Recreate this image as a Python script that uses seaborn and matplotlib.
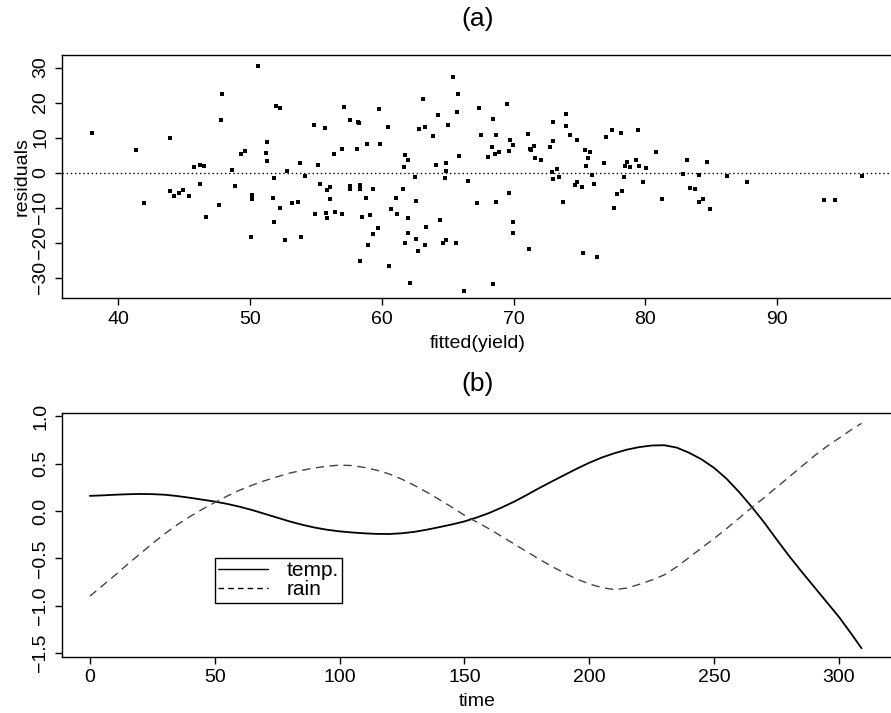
import numpy as np
import pandas as pd
import matplotlib
matplotlib.use("Agg")
import matplotlib.pyplot as plt
import seaborn as sns
from matplotlib.lines import Line2D

# ---------------- data: panel (a) ----------------
fitted = [
    37.98, 41.32, 41.98, 43.95, 43.90, 44.23, 44.63, 44.89, 45.39, 45.75,
    46.20, 46.48, 46.23, 46.68, 47.62, 47.77, 47.87, 48.63, 48.86, 49.29,
    49.65, 50.15, 50.18, 50.08, 50.63, 51.22, 51.32, 51.32, 51.82, 51.75,
    51.85, 51.95, 52.30, 52.25, 52.68, 52.78, 53.21, 53.67, 53.80, 53.90,
    54.18, 54.88, 54.91, 55.16, 55.34, 55.69, 55.75, 55.82, 55.82, 56.10,
    56.05, 56.35, 56.48, 56.96, 57.01, 57.16, 57.57, 57.62, 57.59, 58.20,
    58.30, 58.10, 58.35, 58.35, 58.35, 58.53, 58.81, 58.88, 59.14, 59.36,
    59.36, 59.77, 59.74, 59.90, 58.98, 60.50, 60.58, 60.73, 61.09, 61.16,
    61.64, 61.72, 61.79, 62.02, 61.99, 62.02, 61.74, 62.17, 62.55, 62.58,
    62.63, 62.73, 62.86, 63.11, 63.31, 63.26, 63.39, 63.92, 64.15, 64.30,
    64.43, 64.63, 64.76, 64.86, 64.86, 64.86, 65.06, 65.39, 65.62, 65.69,
    65.82, 65.87, 66.22, 66.58, 67.26, 67.41,
    67.54, 68.43, 68.40, 68.43, 68.07, 68.58, 68.70, 68.70, 68.93, 69.54,
    69.64, 69.72, 69.62, 69.99, 69.99, 69.99, 71.13, 71.21, 71.23, 71.36,
    71.54, 71.64, 72.12, 72.73, 72.91, 73.03, 73.01, 72.98, 73.28, 73.46,
    73.74, 73.97, 73.97, 74.30, 74.65, 74.78, 74.80, 75.16, 75.31, 75.44,
    75.64, 75.49, 75.84, 75.94, 76.07, 76.30, 76.90, 77.01, 77.44, 77.61,
    77.84, 78.12, 78.22, 78.40, 78.47, 78.60, 78.85, 79.28, 79.41, 79.49,
    79.82, 80.04, 80.83, 81.26, 82.88, 83.18, 83.41, 83.76, 84.04, 84.09,
    84.40, 84.65, 84.95, 86.19, 87.69, 93.53, 94.37, 96.44,
]
residuals = [
    11.24, 6.48, -8.57, 10.00, -5.14, -6.57, -5.90, -4.95, -6.66, 1.62,
    2.10, 2.00, -3.33, -12.76, -9.33, 14.96, 22.48, 0.67, -3.90, 5.43,
    6.10, -6.47, -7.61, -18.38, 30.39, 5.53, 8.67, 3.24, -1.60, -7.14,
    -14.00, 19.15, 18.58, -9.99, -19.14, 0.48, -8.76, -8.38, 2.67, -18.38,
    -0.95, 13.72, -11.71, 2.29, -3.33, 12.67, -11.61, -12.85, -4.95, -4.20,
    -7.42, 5.43, -11.23, -11.80, 6.86, 18.86, -4.76, -3.71, 15.15, 14.48,
    14.29, 6.67, -3.42, -4.57, -25.23, -12.57, -7.23, 8.10, -12.09, -4.57,
    -17.61, 18.29, -15.90, 8.10, -20.57, 12.96, -26.57, -10.47, -7.33, -11.80,
    -4.76, 1.72, 5.05, 3.62, -13.04, -17.33, -20.09, -31.52, -1.23, -19.04,
    -8.18, -22.38, 12.58, 21.15, 13.05, -20.76, -15.61, 10.39, 2.29, 16.39,
    -13.42, -20.09, -1.52, 2.77, 0.48, -19.23, 13.53, 27.43, -20.09, 17.24,
    22.48, 4.86, -33.71, -2.47, -8.76, 18.39,
    10.67, 15.24, 7.43, -31.90, 4.58, 5.24, 10.67, -8.28, 5.81, 19.53,
    6.20, 9.34, -5.90, 8.00, -14.20, -17.33, 11.05, -21.90, 6.67, 6.48,
    7.53, 4.20, 3.62, 7.24, 0.29, 14.57, 9.15, -1.90, 1.05, -1.23,
    -8.28, 16.86, 13.43, 10.86, -3.62, -2.66, 9.34, -4.19, -23.04, 6.48,
    4.20, 1.91, 6.00, -0.66, -3.14, -24.09, 2.67, 10.29, 12.10, -10.09,
    -6.09, 11.24, -5.33, -1.23, 1.91, 3.05, 1.72, 3.53, 12.10, 2.01,
    -2.76, 1.43, 6.00, -7.61, -0.47, 3.62, -4.38, -4.76, -0.66, -8.47,
    -7.61, 3.05, -10.47, -0.95, -2.66, -7.71, -7.71, -1.04,
]

# ---------------- data: panel (b) ----------------
time = [0, 5, 10, 15, 20, 25, 30, 35, 40, 45, 50, 55, 60, 65, 70, 75, 80,
        85, 90, 95, 100, 105, 110, 115, 120, 125, 130, 135, 140, 145, 150,
        155, 160, 165, 170, 175, 180, 185, 190, 195, 200, 205, 210, 215,
        220, 225, 230, 235, 240, 245, 250, 255, 260, 265, 270, 275, 280,
        285, 290, 295, 300, 305, 309]
temp = [0.160, 0.165, 0.172, 0.177, 0.180, 0.178, 0.172, 0.158, 0.140,
        0.120, 0.100, 0.075, 0.045, 0.010, -0.030, -0.070, -0.110, -0.145,
        -0.175, -0.198, -0.215, -0.227, -0.236, -0.242, -0.243, -0.235,
        -0.220, -0.197, -0.170, -0.142, -0.110, -0.068, -0.020, 0.038,
        0.100, 0.170, 0.243, 0.312, 0.380, 0.447, 0.510, 0.565, 0.610,
        0.648, 0.675, 0.692, 0.695, 0.670, 0.615, 0.545, 0.455, 0.340,
        0.200, 0.045, -0.120, -0.300, -0.475, -0.640, -0.800, -0.960,
        -1.120, -1.300, -1.450]
rain = [-0.900, -0.790, -0.680, -0.565, -0.455, -0.345, -0.240, -0.145,
        -0.060, 0.018, 0.090, 0.158, 0.220, 0.273, 0.320, 0.362, 0.400,
        0.430, 0.455, 0.473, 0.485, 0.480, 0.460, 0.430, 0.390, 0.335,
        0.270, 0.198, 0.120, 0.040, -0.045, -0.118, -0.190, -0.270, -0.350,
        -0.430, -0.510, -0.585, -0.655, -0.720, -0.770, -0.810, -0.830,
        -0.815, -0.775, -0.730, -0.675, -0.590, -0.490, -0.390, -0.290,
        -0.185, -0.075, 0.035, 0.140, 0.250, 0.360, 0.470, 0.580, 0.680,
        0.770, 0.860, 0.926]

x_ticks_a = [40, 50, 60, 70, 80, 90]
y_ticks_a = [-30, -20, -10, 0, 10, 20, 30]
x_ticks_b = [0, 50, 100, 150, 200, 250, 300]
y_ticks_b = [-1.5, -1.0, -0.5, 0.0, 0.5, 1.0]
y_ticklabels_b = ["\u22121.5", "\u22121.0", "\u22120.5", "0.0", "0.5", "1.0"]

# ---------------- style ----------------
sns.set_theme(style="ticks")
plt.rcParams["font.family"] = ["Liberation Sans", "DejaVu Sans"]
plt.rcParams["axes.edgecolor"] = "black"
plt.rcParams["axes.linewidth"] = 1.0
plt.rcParams["xtick.color"] = "black"
plt.rcParams["ytick.color"] = "black"
plt.rcParams["text.color"] = "black"
plt.rcParams["axes.labelcolor"] = "black"

fig = plt.figure(figsize=(8.91, 7.13), dpi=100)
fig.patch.set_facecolor("white")

ax1 = fig.add_axes([0.0692, 0.5816, 0.9330, 0.3413])
ax2 = fig.add_axes([0.0692, 0.0790, 0.9330, 0.3413])

# panel (a)
df_a = pd.DataFrame({"fitted": fitted, "residuals": residuals})
sns.scatterplot(data=df_a, x="fitted", y="residuals", ax=ax1, marker="s",
                s=6.5, color="black", linewidth=0)
ax1.axhline(0, color="black", linestyle=(0, (1, 2)), linewidth=1.0)
ax1.set_xlim(35.7, 98.8)
ax1.set_ylim(-35.9, 33.6)
ax1.set_xticks(x_ticks_a)
ax1.set_yticks(y_ticks_a)
ax1.set_yticklabels([str(v).replace("-", "\u2212") for v in y_ticks_a])
ax1.set_xlabel("fitted(yield)", fontsize=14, labelpad=5)
ax1.set_ylabel("residuals", fontsize=14, labelpad=1)
ax1.set_title("(a)", fontsize=19, pad=21)

# panel (b)
df_b = pd.DataFrame({"time": time, "temp": temp, "rain": rain})
sns.lineplot(data=df_b, x="time", y="temp", ax=ax2, color="black",
             linewidth=1.3)
sns.lineplot(data=df_b, x="time", y="rain", ax=ax2, color="#444444",
             linewidth=1.0)
ax2.lines[-1].set_linestyle((0, (6, 4)))
ax2.set_xlim(-11.3, 321.6)
ax2.set_ylim(-1.539, 1.032)
ax2.set_xticks(x_ticks_b)
ax2.set_yticks(y_ticks_b)
ax2.set_yticklabels(y_ticklabels_b)
ax2.set_xlabel("time", fontsize=14, labelpad=5)
ax2.set_ylabel("")
ax2.set_title("(b)", fontsize=19, pad=16)

handles = [Line2D([], [], color="black", linewidth=1.0),
           Line2D([], [], color="black", linewidth=1.0, linestyle=(0, (4, 3)))]
leg = ax2.legend(handles, ["temp.", "rain"], loc="upper left",
                 bbox_to_anchor=(50, -0.5), bbox_transform=ax2.transData,
                 frameon=True, fancybox=False, edgecolor="black",
                 framealpha=1, fontsize=15, handlelength=2.4,
                 handletextpad=0.9, labelspacing=0.0, borderpad=0.15,
                 borderaxespad=0)
leg.get_frame().set_linewidth(1.0)

for ax in (ax1, ax2):
    for sp in ax.spines.values():
        sp.set_visible(True)
        sp.set_color("black")
        sp.set_linewidth(1.0)
    ax.tick_params(axis="both", direction="out", length=5, width=1,
                   labelsize=14, pad=4)
    for lab in ax.get_yticklabels():
        lab.set_rotation(90)
        lab.set_va("center")
    ax.grid(False)

fig.savefig("out.png", dpi=100, facecolor="white")
